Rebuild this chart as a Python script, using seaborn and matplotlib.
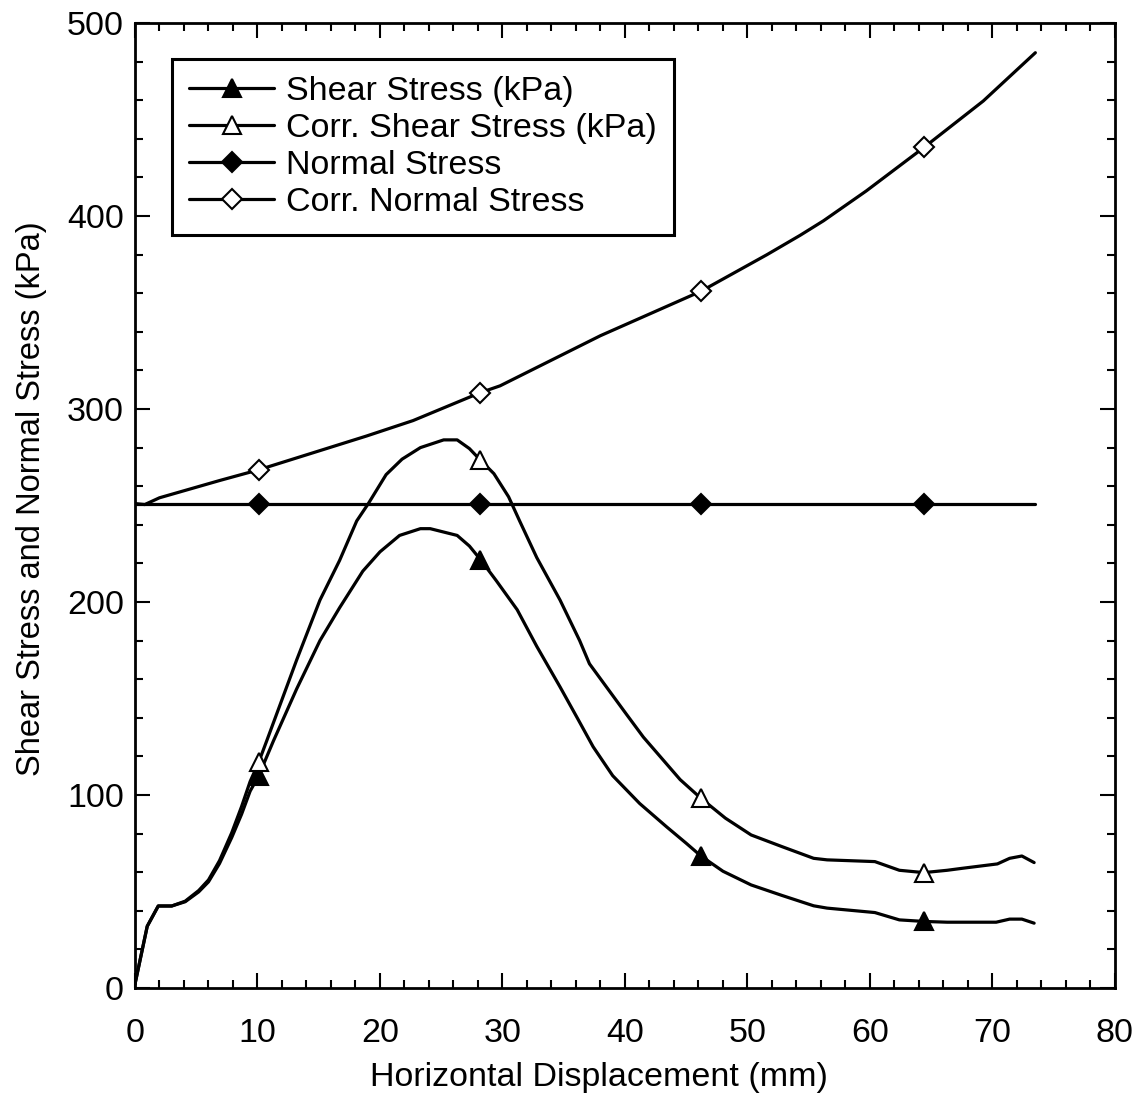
import numpy as np
import pandas as pd
import matplotlib
matplotlib.use("Agg")
import matplotlib.pyplot as plt
from matplotlib.ticker import MultipleLocator
import seaborn as sns

# ---------------- data ----------------
shear_x = [0, 1.0, 1.9, 3.0, 4.1, 5.2, 6.0, 6.9, 7.9, 8.7, 9.4, 10.1, 11.3, 13.2,
           15.1, 16.7, 18.6, 20.0, 21.6, 23.3, 24.1, 26.3, 27.3, 28.2, 29.5, 31.2,
           32.8, 34.7, 36.1, 37.4, 39.0, 41.2, 43.4, 45.0, 46.2, 48.0, 50.3, 52.8,
           55.4, 56.5, 60.4, 62.4, 64.4, 66.3, 70.3, 71.4, 72.4, 73.4]
shear_y = [2, 32, 42.5, 42.5, 44.7, 49.8, 55, 64.5, 78, 90, 102, 110, 128, 155,
           180, 197, 216, 226, 234.5, 238, 238, 234.5, 229, 222, 211, 196,
           177, 156, 140, 125, 110, 95.6, 83.5, 75, 68.4, 60.5, 53.4, 48,
           42.6, 41.4, 39.1, 35.3, 34.5, 34.1, 34.1, 35.7, 35.7, 33.6]

corr_shear_x = [0, 1.0, 1.9, 3.0, 4.1, 5.2, 6.0, 6.9, 7.9, 8.7, 9.4, 10.1, 10.75, 13.2,
                15.1, 16.7, 18.1, 19.05, 20.5, 21.8, 23.3, 25.2, 26.3, 27.3, 28.2, 29.3,
                30.5, 31.4, 32.8, 34.7, 36.3, 37.1, 40.1, 41.5, 44.5, 46.2, 48.2, 50.3,
                52.8, 55.4, 56.5, 60.4, 62.4, 64.4, 66.3, 67.5, 70.4, 71.4, 72.4, 73.4]
corr_shear_y = [2, 32, 42.5, 42.5, 45, 50.5, 56, 66, 80.5, 94, 107, 117, 128, 170,
                201, 221.5, 242, 251, 266, 274, 280, 284, 284, 279.5, 273.5, 266.5,
                254.5, 242, 223, 201, 180, 168, 142, 130, 108, 98.3, 88, 79.3,
                73.3, 67.2, 66.4, 65.5, 61, 59.8, 61, 62, 64.3, 67.2, 68.4, 65]

normal_x = [0, 10.1, 28.2, 46.2, 64.4, 73.5]
normal_y = [251, 251, 251, 251, 251, 251]

corr_normal_x = [0, 0.8, 2.0, 6.94, 10.1, 18.9, 22.7, 28.2, 29.8, 38.0, 46.2, 51.6,
                 54.3, 56.2, 59.7, 64.4, 69.25, 73.5]
corr_normal_y = [251, 250.5, 254, 263, 268.5, 286, 294, 308.5, 312, 338, 361, 380,
                 390, 397.5, 413, 435.5, 459.6, 484.6]

marker_x = [10.1, 28.2, 46.2, 64.4]

labels = ["Shear Stress (kPa)", "Corr. Shear Stress (kPa)",
          "Normal Stress", "Corr. Normal Stress"]

x_ticks = list(range(0, 81, 10))
y_ticks = list(range(0, 501, 100))

# ---------------- style ----------------
sns.set_theme(style="ticks")
plt.rcParams["font.family"] = ["Liberation Sans", "DejaVu Sans"]
plt.rcParams["text.color"] = "black"
plt.rcParams["axes.labelcolor"] = "black"
plt.rcParams["xtick.color"] = "black"
plt.rcParams["ytick.color"] = "black"

fig = plt.figure(figsize=(11.41, 10.95), dpi=100)
ax = fig.add_axes([0.1183, 0.0977, 0.8589, 0.8813])

series = [
    (shear_x, shear_y, "^", "black"),
    (corr_shear_x, corr_shear_y, "^", "white"),
    (normal_x, normal_y, "D", "black"),
    (corr_normal_x, corr_normal_y, "D", "white"),
]

for (xs, ys, mk, fc), lab in zip(series, labels):
    df = pd.DataFrame({"x": xs, "y": ys})
    idx = [i for i, v in enumerate(xs) if any(abs(v - m) < 1e-9 for m in marker_x)]
    ms = 13 if mk == "^" else 10.5
    sns.lineplot(data=df, x="x", y="y", ax=ax, sort=False, estimator=None,
                 color="black", linewidth=2.3, marker=mk, markersize=ms,
                 markerfacecolor=fc, markeredgecolor="black", markeredgewidth=1.5,
                 markevery=idx, label=lab, legend=False)

ax.set_xlim(0, 80)
ax.set_ylim(0, 500)
ax.set_xticks(x_ticks)
ax.set_yticks(y_ticks)
ax.xaxis.set_minor_locator(MultipleLocator(2))
ax.yaxis.set_minor_locator(MultipleLocator(20))
ax.tick_params(which="both", direction="in", top=True, right=True,
               colors="black", labelcolor="black", width=1.5)
ax.tick_params(which="major", length=11)
ax.tick_params(which="minor", length=5.5)
ax.tick_params(axis="x", which="major", labelsize=24.5, pad=21.5)
ax.tick_params(axis="y", which="major", labelsize=24.5, pad=8)
for sp in ax.spines.values():
    sp.set_visible(True)
    sp.set_linewidth(2.0)
    sp.set_color("black")

ax.set_xlabel("Horizontal Displacement (mm)", fontsize=24.5, color="black")
ax.set_ylabel("Shear Stress and Normal Stress (kPa)", fontsize=23.5, color="black")
ax.xaxis.set_label_coords(0.4735, -0.0765)
ax.yaxis.set_label_coords(-0.09, 0.507)
ax.grid(False)

handles, labs = ax.get_legend_handles_labels()
leg = ax.legend(handles, labs, loc="upper left", bbox_to_anchor=(0.038, 0.963),
                borderaxespad=0, fontsize=24.5, frameon=True, fancybox=False,
                handlelength=2.5, handletextpad=0.35, labelspacing=0.18,
                borderpad=0.5, edgecolor="black", framealpha=1)
leg.get_frame().set_linewidth(2.2)
for t in leg.get_texts():
    t.set_color("black")

fig.savefig("out.png", dpi=100, facecolor="white")
